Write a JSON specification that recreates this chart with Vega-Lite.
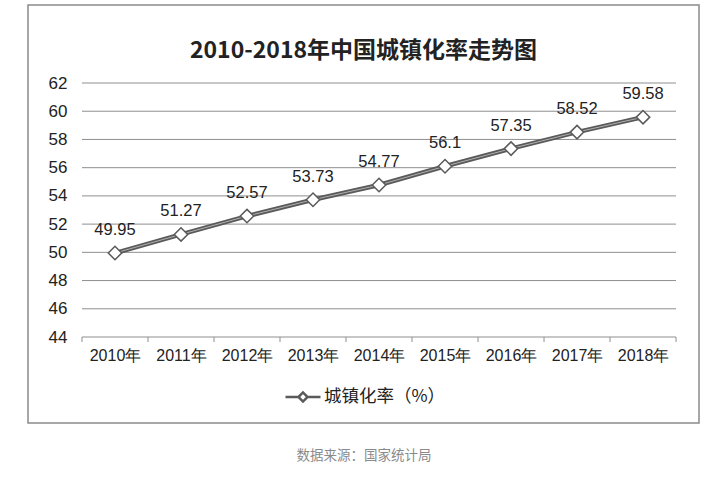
{
  "$schema": "https://vega.github.io/schema/vega-lite/v6.json",
  "width": 671,
  "height": 418,
  "autosize": "none",
  "padding": {"left": 28, "top": 5, "right": 12, "bottom": 63},
  "background": "white",
  "title": {
    "text": "2010-2018年中国城镇化率走势图",
    "font": "Noto Sans CJK SC",
    "fontSize": 23,
    "fontWeight": "bold",
    "color": "#222222",
    "anchor": "middle",
    "offset": -58
  },
  "datasets": {
    "rates": [
      {"year": 2010, "rate": 49.95},
      {"year": 2011, "rate": 51.27},
      {"year": 2012, "rate": 52.57},
      {"year": 2013, "rate": 53.73},
      {"year": 2014, "rate": 54.77},
      {"year": 2015, "rate": 56.1},
      {"year": 2016, "rate": 57.35},
      {"year": 2017, "rate": 58.52},
      {"year": 2018, "rate": 59.58}
    ],
    "grid": [
      {"g": 44}, {"g": 46}, {"g": 48}, {"g": 50}, {"g": 52},
      {"g": 54}, {"g": 56}, {"g": 58}, {"g": 60}, {"g": 62}
    ],
    "ticks": [
      {"t": 2009.5}, {"t": 2010.5}, {"t": 2011.5}, {"t": 2012.5}, {"t": 2013.5},
      {"t": 2014.5}, {"t": 2015.5}, {"t": 2016.5}, {"t": 2017.5}, {"t": 2018.5}
    ]
  },
  "layer": [
    {
      "data": {"name": "grid"},
      "mark": {"type": "rule", "color": "#8f8f8f", "strokeWidth": 1},
      "encoding": {
        "y": {"field": "g", "type": "quantitative"},
        "x": {"datum": 2009.5, "type": "quantitative"},
        "x2": {"datum": 2018.5}
      }
    },
    {
      "data": {"name": "ticks"},
      "mark": {"type": "rule", "color": "#8f8f8f", "strokeWidth": 1},
      "encoding": {
        "x": {"field": "t", "type": "quantitative"},
        "y": {"datum": 44, "type": "quantitative"},
        "y2": {"datum": 43.646}
      }
    },
    {
      "data": {"name": "rates"},
      "mark": {"type": "line", "strokeWidth": 4.5},
      "encoding": {
        "x": {
          "field": "year",
          "type": "quantitative",
          "scale": {"domain": [2008.682, 2018.848], "nice": false, "zero": false},
          "axis": {
            "values": [2010, 2011, 2012, 2013, 2014, 2015, 2016, 2017, 2018],
            "labelExpr": "datum.value + '年'",
            "domain": false,
            "ticks": false,
            "grid": false,
            "offset": -86,
            "tickSize": 0,
            "labelPadding": 10,
            "labelFont": "Liberation Sans",
            "labelFontSize": 16,
            "labelColor": "#222222",
            "labelOverlap": false,
            "labelFlush": false,
            "title": "数据来源：国家统计局",
            "titleFont": "Noto Sans CJK SC",
            "titleFontSize": 13.5,
            "titleFontWeight": "normal",
            "titleColor": "#8a8a8a",
            "titleY": 118,
            "titleBaseline": "middle"
          }
        },
        "y": {
          "field": "rate",
          "type": "quantitative",
          "scale": {"domain": [37.906, 67.528], "nice": false, "zero": false},
          "axis": {
            "values": [44, 46, 48, 50, 52, 54, 56, 58, 60, 62],
            "domain": false,
            "ticks": false,
            "tickSize": 0,
            "grid": false,
            "offset": -39,
            "labelPadding": 0,
            "labelFont": "Liberation Sans",
            "labelFontSize": 17,
            "labelColor": "#222222",
            "title": null
          }
        },
        "color": {
          "datum": "城镇化率（%）",
          "scale": {"range": ["#5a5a5a"]},
          "legend": {
            "title": null,
            "orient": "none",
            "legendX": 256,
            "legendY": 373,
            "padding": 0,
            "symbolType": "M-1,0L-0.26,0M0.26,0L1,0M-0.26,0L0,-0.26L0.26,0L0,0.26Z",
            "symbolSize": 1225,
            "symbolStrokeWidth": 2.5,
            "symbolFillColor": "white",
            "labelFont": "Noto Sans CJK SC",
            "labelFontSize": 17.5,
            "labelColor": "#222222",
            "labelOffset": 2
          }
        }
      }
    },
    {
      "data": {"name": "rates"},
      "mark": {"type": "line", "strokeWidth": 1, "color": "#b0b0b0"},
      "encoding": {
        "x": {"field": "year", "type": "quantitative"},
        "y": {"field": "rate", "type": "quantitative"}
      }
    },
    {
      "data": {"name": "rates"},
      "mark": {"type": "point", "shape": "diamond", "filled": true, "fill": "white", "stroke": "#5a5a5a", "strokeWidth": 1.5, "size": 180, "opacity": 1},
      "encoding": {
        "x": {"field": "year", "type": "quantitative"},
        "y": {"field": "rate", "type": "quantitative"}
      }
    },
    {
      "data": {"name": "rates"},
      "mark": {"type": "text", "font": "Liberation Sans", "fontSize": 16.5, "color": "#222222", "baseline": "middle", "dy": -23},
      "encoding": {
        "x": {"field": "year", "type": "quantitative"},
        "y": {"field": "rate", "type": "quantitative"},
        "text": {"field": "rate", "type": "nominal"}
      }
    }
  ],
  "config": {
    "view": {"stroke": "#8a8a8a", "strokeWidth": 1.5}
  }
}
